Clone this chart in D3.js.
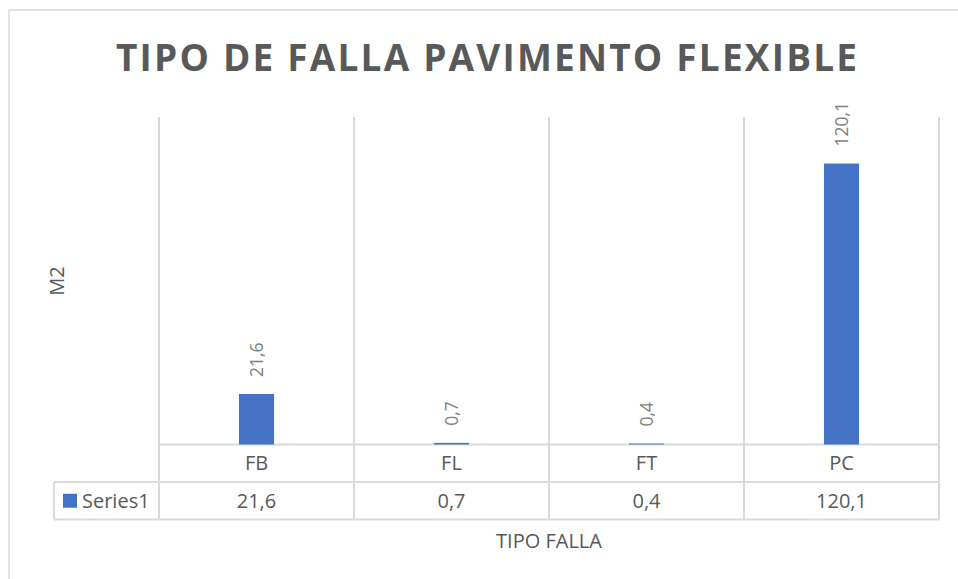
<!DOCTYPE html>
<html lang="es">

<head>
    <meta charset="UTF-8">
    <title>Tipo de falla pavimento flexible</title>
    <script src="https://d3js.org/d3.v7.min.js"></script>
    <style>
        body {
            margin: 0;
            background: #fff;
            overflow: hidden;
        }

        svg {
            display: block;
            font-family: "Open Sans", sans-serif;
        }
    </style>
</head>

<body>
    <script>
        // datos del grafico
        const categories = ["FB", "FL", "FT", "PC"];
        const values = [21.6, 0.7, 0.4, 120.1];
        const seriesName = "Series1";
        const title = "TIPO DE FALLA PAVIMENTO FLEXIBLE";
        const xTitle = "TIPO FALLA";
        const yTitle = "M2";

        const width = 958;
        const height = 579;

        const blue = "#4472C4";
        const grid = "#d9d9d9";
        const textCol = "#595959";

        // formato con coma decimal
        const es = d3.formatLocale({ decimal: ",", thousands: ".", grouping: [3], currency: ["", ""] });
        const fmt = es.format(".1f");

        const plot = { left: 159, right: 939, top: 117, bottom: 444.5 };
        const rowH = 37.5;
        const tableLeft = 54;

        const svg = d3.select("body").append("svg")
            .attr("width", width)
            .attr("height", height);

        // borde del grafico
        svg.append("rect")
            .attr("x", 9)
            .attr("y", 10)
            .attr("width", 970)
            .attr("height", 600)
            .attr("fill", "none")
            .attr("stroke", grid)
            .attr("stroke-width", 1.5);

        const x = d3.scaleBand()
            .domain(categories)
            .range([plot.left, plot.right]);

        const y = d3.scaleLinear()
            .domain([0, 140])
            .range([plot.bottom, plot.top]);

        // titulo
        svg.append("text")
            .attr("x", 116)
            .attr("y", 71)
            .attr("textLength", 741)
            .attr("lengthAdjust", "spacing")
            .style("font-size", "37px")
            .style("font-weight", "bold")
            .style("fill", textCol)
            .text(title);

        // lineas verticales (separadores de categoria)
        const bounds = categories.map(c => x(c)).concat([plot.right]);
        svg.append("g")
            .selectAll("line")
            .data(bounds)
            .enter().append("line")
            .attr("x1", d => d)
            .attr("x2", d => d)
            .attr("y1", plot.top)
            .attr("y2", plot.bottom + 2 * rowH)
            .attr("stroke", grid)
            .attr("stroke-width", 2);

        // lineas horizontales de la tabla
        const table = svg.append("g");
        table.append("line")
            .attr("x1", plot.left).attr("x2", plot.right)
            .attr("y1", plot.bottom).attr("y2", plot.bottom);
        table.append("line")
            .attr("x1", tableLeft).attr("x2", plot.right)
            .attr("y1", plot.bottom + rowH).attr("y2", plot.bottom + rowH);
        table.append("line")
            .attr("x1", tableLeft).attr("x2", plot.right)
            .attr("y1", plot.bottom + 2 * rowH).attr("y2", plot.bottom + 2 * rowH);
        table.append("line")
            .attr("x1", tableLeft).attr("x2", tableLeft)
            .attr("y1", plot.bottom + rowH).attr("y2", plot.bottom + 2 * rowH);
        table.selectAll("line")
            .attr("stroke", grid)
            .attr("stroke-width", 2);

        // barras
        const barW = x.bandwidth() * 0.18;
        svg.append("g")
            .selectAll("rect")
            .data(values)
            .enter().append("rect")
            .attr("x", (d, i) => x(categories[i]) + (x.bandwidth() - barW) / 2)
            .attr("y", d => y(d))
            .attr("width", barW)
            .attr("height", d => y(0) - y(d))
            .attr("fill", blue);

        // etiquetas de datos (rotadas)
        svg.append("g")
            .selectAll("text")
            .data(values)
            .enter().append("text")
            .attr("transform", (d, i) => `translate(${x(categories[i]) + x.bandwidth() / 2}, ${y(d) - 17}) rotate(-90)`)
            .attr("dy", "0.35em")
            .style("font-size", "17.5px")
            .style("fill", "#7f7f7f")
            .text(d => fmt(d));

        // fila de categorias
        svg.append("g")
            .selectAll("text")
            .data(categories)
            .enter().append("text")
            .attr("x", d => x(d) + x.bandwidth() / 2)
            .attr("y", plot.bottom + rowH / 2)
            .attr("dy", "0.35em")
            .attr("text-anchor", "middle")
            .style("font-size", "20px")
            .style("fill", textCol)
            .text(d => d);

        // fila de valores
        svg.append("g")
            .selectAll("text")
            .data(values)
            .enter().append("text")
            .attr("x", (d, i) => x(categories[i]) + x.bandwidth() / 2)
            .attr("y", plot.bottom + rowH * 1.5)
            .attr("dy", "0.35em")
            .attr("text-anchor", "middle")
            .style("font-size", "20px")
            .style("fill", textCol)
            .text(d => fmt(d));

        // clave de la serie
        svg.append("rect")
            .attr("x", 63)
            .attr("y", plot.bottom + rowH * 1.5 - 7)
            .attr("width", 14)
            .attr("height", 14)
            .attr("fill", blue);
        svg.append("text")
            .attr("x", 82)
            .attr("y", plot.bottom + rowH * 1.5)
            .attr("dy", "0.35em")
            .style("font-size", "20px")
            .style("fill", textCol)
            .text(seriesName);

        // titulos de ejes
        svg.append("text")
            .attr("x", (plot.left + plot.right) / 2)
            .attr("y", 541)
            .attr("dy", "0.35em")
            .attr("text-anchor", "middle")
            .style("font-size", "20px")
            .style("fill", textCol)
            .text(xTitle);

        svg.append("text")
            .attr("transform", "translate(57, 281) rotate(-90)")
            .attr("dy", "0.35em")
            .attr("text-anchor", "middle")
            .style("font-size", "20px")
            .style("fill", textCol)
            .text(yTitle);
    </script>
</body>

</html>
